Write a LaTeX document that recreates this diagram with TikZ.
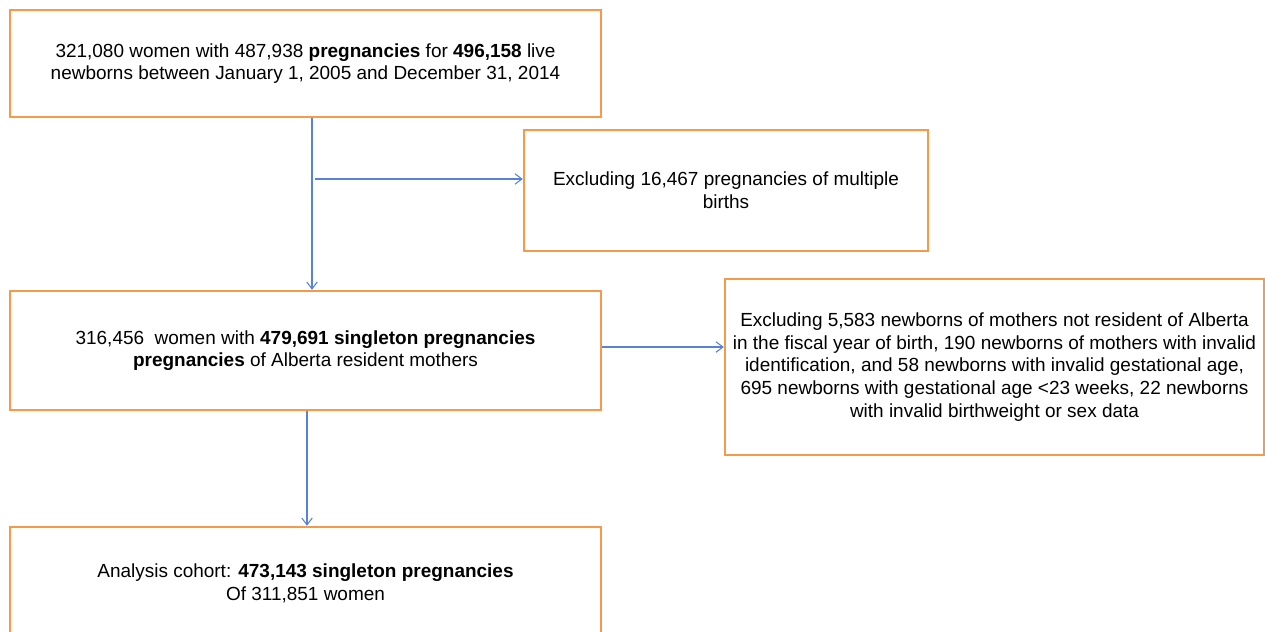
\documentclass[tikz,border=0pt]{standalone}
\usepackage{fontspec}
\setmainfont{Liberation Sans}
\usepackage{tikz}
\usetikzlibrary{arrows.meta,positioning}

\begin{document}
\begin{tikzpicture}[x=0.02cm,y=-0.02cm,
                    flowbox/.style={draw=boxorange,line width=1.4pt,align=center,
                    inner sep=0pt,font=\fontsize{10.8pt}{12.9pt}\selectfont},
                    arr/.style={draw=arrowblue,line width=0.6pt,-{Straight Barb[length=4pt,width=6pt]}}]
\definecolor{boxorange}{RGB}{244,154,72}
\definecolor{arrowblue}{RGB}{88,130,215}
\useasboundingbox (0,0) rectangle (1265,632);
\clip (0,0) rectangle (1265,632);

        \node[flowbox,minimum width=11.82cm,minimum height=2.14cm]   (start)   at (305.5,63.5)
            {321,080 women with 487,938 \textbf{pregnancies} for \textbf{496,158} live\\
             newborns between January 1, 2005 and December 31, 2014};

        \node[flowbox,minimum width=8.08cm,minimum height=2.42cm]    (multi)   at (726,190.5)
            {Excluding 16,467 pregnancies of multiple\\ births};

        \node[flowbox,minimum width=11.82cm,minimum height=2.38cm]   (single)  at (305.5,350.5)
            {316,456\ \ women with \textbf{479,691 singleton pregnancies}\\
             \textbf{pregnancies} of Alberta resident mothers};

        \node[flowbox,minimum width=10.78cm,minimum height=3.52cm]   (excl)    at (994.5,367)
            {Excluding 5,583 newborns of mothers not resident of Alberta\\
             in the fiscal year of birth, 190 newborns of mothers with invalid\\
             identification, and 58 newborns with invalid gestational age,\\
             695 newborns with gestational age <23 weeks, 22 newborns\\
             with invalid birthweight or sex data};

        \node[flowbox,minimum width=11.82cm,minimum height=2.26cm]   (cohort)  at (305.5,583.5)
            {Analysis cohort: \textbf{473,143 singleton pregnancies}\\ Of 311,851 women};

        \coordinate (split) at (315,179);

        \draw[arr] ([xshift=0.13cm]start.south) -- ([xshift=0.13cm]single.north);
        \draw[arr] (split) -- (split -| multi.west);
        \draw[arr] ([yshift=0.07cm]single.east) -- ([yshift=0.07cm]single.east -| excl.west);
        \draw[arr] ([xshift=0.03cm]single.south) -- ([xshift=0.03cm]cohort.north);

\end{tikzpicture}
\end{document}
